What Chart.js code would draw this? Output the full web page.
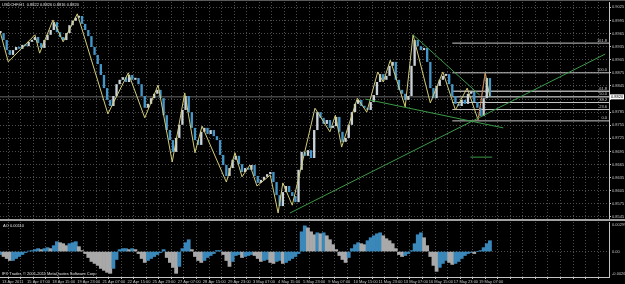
<!DOCTYPE html>
<html>
<head>
<meta charset="utf-8">
<script src="https://cdn.jsdelivr.net/npm/chart.js@4.4.1/dist/chart.umd.min.js"></script>
<style>
  html, body { margin: 0; padding: 0; background: #000; }
  #wrap { position: relative; width: 625px; height: 284px; overflow: hidden; background: #000; }
  #main { position: absolute; left: 0; top: 0; }
  #ao { position: absolute; left: 0; top: 221px; }
</style>
</head>
<body>
<div id="wrap">
  <canvas id="main" width="625" height="221"></canvas>
  <canvas id="ao" width="625" height="63"></canvas>
</div>
<script>
var symbolName = "USDCHF,H1";
var ohlcText = ["0.8822", "0.8826", "0.8816", "0.8820"];
var copyrightText = "IFX Trader, \u00a9 2001-2011 MetaQuotes Software Corp.";

// one sample every 4 H1 bars
var firstBar = -2;
var barStep = 4;
var closes = [
  0.8966,0.8950,0.8927,0.8916,0.8927,0.8934,0.8930,0.8939,0.8936,0.8946,
  0.8950,0.8957,0.8943,0.8932,0.8950,0.8962,0.8973,0.8991,0.8968,0.8957,
  0.8950,0.8966,0.8984,0.8994,0.9001,0.9005,0.8987,0.8973,0.8959,0.8934,
  0.8916,0.8895,0.8870,0.8840,0.8813,0.8799,0.8822,0.8849,0.8859,0.8865,
  0.8854,0.8870,0.8859,0.8863,0.8849,0.8822,0.8795,0.8804,0.8817,0.8827,
  0.8836,0.8817,0.8778,0.8744,0.8721,0.8694,0.8726,0.8756,0.8790,0.8822,
  0.8785,0.8749,0.8721,0.8710,0.8740,0.8749,0.8735,0.8744,0.8730,0.8721,
  0.8687,0.8664,0.8639,0.8657,0.8676,0.8685,0.8666,0.8648,0.8657,0.8653,
  0.8664,0.8639,0.8623,0.8630,0.8637,0.8643,0.8648,0.8625,0.8595,0.8570,
  0.8602,0.8616,0.8602,0.8593,0.8579,0.8653,0.8694,0.8685,0.8698,0.8680,
  0.8744,0.8785,0.8772,0.8758,0.8767,0.8749,0.8753,0.8774,0.8740,0.8717,
  0.8726,0.8756,0.8785,0.8804,0.8813,0.8799,0.8795,0.8790,0.8808,0.8824,
  0.8854,0.8872,0.8859,0.8868,0.8891,0.8900,0.8859,0.8836,0.8827,0.8813,
  0.8822,0.8891,0.8950,0.8936,0.8927,0.8932,0.8900,0.8840,0.8817,0.8845,
  0.8859,0.8868,0.8872,0.8849,0.8822,0.8804,0.8799,0.8813,0.8804,0.8827,
  0.8831,0.8808,0.8795,0.8776,0.8817,0.8863,0.8820
];
var aoValues = [
  -0.0003,-0.0005,-0.0007,-0.0009,-0.0009,-0.0007,-0.0005,-0.0003,-0.0001,0.00005,
  0.0001,0.0002,0.0003,0.0002,0.0003,0.0004,0.0003,0.0006,0.0010,0.0009,
  0.0008,0.0006,0.0008,0.0009,0.0010,0.0005,0.0001,-0.0002,-0.0006,-0.0010,
  -0.0012,-0.0014,-0.0017,-0.0019,-0.0021,-0.0022,-0.0017,-0.0008,0.0002,0.0003,
  0.0003,0.0002,0.0003,0.0002,-0.0002,-0.0007,-0.0011,-0.0009,-0.0007,-0.0005,
  -0.0003,-0.0001,0.0002,-0.0006,-0.0011,-0.0016,-0.0022,-0.0015,0.0003,0.0009,
  0.0012,0.0002,-0.0005,-0.0009,-0.0011,-0.0009,-0.0006,-0.0004,-0.0002,0.0001,
  0.0001,-0.0003,-0.0009,-0.0015,-0.0010,-0.0004,-0.0003,-0.0006,-0.0005,-0.0004,
  -0.0003,-0.0004,-0.0007,-0.0010,-0.0009,-0.0008,-0.0011,-0.0012,-0.0010,-0.0009,
  -0.0012,-0.0011,-0.0009,-0.0007,-0.0005,-0.0002,0.0020,0.0026,0.0024,0.0020,
  0.0017,0.0019,0.0018,0.0019,0.0016,0.0012,0.0007,0.0002,-0.0004,-0.0008,
  -0.0011,-0.0006,0.0003,0.0007,0.0009,0.0008,0.0007,0.0011,0.0014,0.0016,
  0.0018,0.0019,0.0016,0.0013,0.0011,0.0008,0.0003,-0.0003,-0.0005,-0.0004,
  -0.0002,0.0001,0.0008,0.0017,0.0019,0.0014,0.0006,-0.0005,-0.0014,-0.0020,
  -0.0016,-0.0012,-0.0009,-0.0011,-0.0013,-0.0012,-0.0010,-0.0007,-0.0004,-0.0002,
  -0.0001,-0.0002,0.0000,0.0001,0.0004,0.0008,0.0011
];

// zigzag pivots (bar index, price)
var zzBars = [-2,8,42,48,65,78,96,135,161,182,199,217,233,246,255,286,297,306,316,325,
  342,352,358,370,399,418,425,433,453,465,479,486,495,514,524,546,562,578,593,607,616,622];
var zzPrices = [0.8966,0.8900,0.8962,0.8920,0.8996,0.8946,0.9010,0.8781,0.8875,0.8772,
  0.8847,0.8671,0.8829,0.8692,0.8753,0.8625,0.8692,0.8637,0.8664,0.8616,
  0.8641,0.8554,0.8623,0.8572,0.8794,0.8740,0.8778,0.8705,0.8817,0.8785,
  0.8877,0.8854,0.8904,0.8797,0.8962,0.8806,0.8877,0.8790,0.8840,0.8767,0.8875,0.8820];

var priceTicks = [0.8545,0.8575,0.8605,0.8635,0.8665,0.8695,0.8725,0.8755,0.8785,0.8815,
  0.8845,0.8875,0.8905,0.8935,0.8965,0.8995,0.9025];
var timeLabels = ["13 Apr 2011","15 Apr 07:00","18 Apr 15:00","19 Apr 23:00","21 Apr 07:00",
  "22 Apr 15:00","25 Apr 23:00","27 Apr 07:00","28 Apr 15:00","29 Apr 23:00",
  "3 May 07:00","4 May 15:00","5 May 23:00","9 May 07:00","10 May 15:00",
  "11 May 23:00","13 May 07:00","16 May 15:00","17 May 23:00","19 May 07:00"];

var fibLevels = [0, 23.6, 38.2, 50.0, 61.8, 100.0, 161.8];
var fibLow = 0.8765;
var fibHigh = 0.8875;
var fibStartBar = 574;
var lastPrice = 0.8820;

var greenLines = [
  [[367, 0.8554], [769, 0.8918]],
  [[524, 0.8962], [609, 0.8824]],
  [[463, 0.8815], [639, 0.8749]],
  [[597, 0.8682], [625, 0.8682]]
];
var fibTrend = [[607, 0.8767], [616, 0.8875]];

var aoMax = 0.00299;
var aoMin = -0.00257;

var xMin = -2.55, xMax = 773.8;
var priceMin = 0.85404, priceMax = 0.90371;

var fontFam = "'Liberation Sans', Arial, sans-serif";
var gridColor = "#4c4c4c";
var axisColor = "#c4c4c4";

function barOf(i) { return firstBar + i * barStep; }

function gridTicks(axis) {
    var t = [];
    for (var b = 0; b <= 768; b += 16) t.push({ value: b });
    axis.ticks = t;
}

// candles: body from previous close to close
var candleData = [];
var candleColors = [];
for (let i = 0; i < closes.length; i++) {
    var open = i > 0 ? closes[i - 1] : closes[i];
    candleData.push({ x: barOf(i), y: [open, closes[i]] });
    candleColors.push(closes[i] >= open ? "#c9d2d9" : "#4596c8");
}

var zigzag = zzBars.map(function(b, i) { return { x: b, y: zzPrices[i] }; });

var mainSets = [{
    type: 'bar',
    data: candleData,
    backgroundColor: candleColors,
    borderWidth: 0,
    barPercentage: 0.75,
    categoryPercentage: 1,
    minBarLength: 2,
    order: 3
}, {
    type: 'line',
    data: zigzag,
    borderColor: "#d2cc78",
    borderWidth: 1,
    pointRadius: 0,
    tension: 0,
    order: 2
}, {
    type: 'line',
    data: [{ x: xMin, y: lastPrice }, { x: xMax, y: lastPrice }],
    borderColor: "#6a6a6a",
    borderWidth: 1,
    pointRadius: 0,
    order: 6
}, {
    type: 'line',
    data: fibTrend.map(function(p) { return { x: p[0], y: p[1] }; }),
    borderColor: "#c83232",
    borderDash: [1, 1],
    borderWidth: 1,
    pointRadius: 0,
    order: 1
}];

for (let k = 0; k < fibLevels.length; k++) {
    var lv = fibLow + fibLevels[k] / 100 * (fibHigh - fibLow);
    mainSets.push({
        type: 'line',
        data: [{ x: fibStartBar, y: lv }, { x: xMax, y: lv }],
        borderColor: fibLevels[k] == 61.8 ? "#a8a8a8" : "#c8c8c8",
        borderWidth: fibLevels[k] == 61.8 ? 1.6 : 1,
        pointRadius: 0,
        order: 4
    });
}
for (let k = 0; k < greenLines.length; k++) {
    mainSets.push({
        type: 'line',
        data: greenLines[k].map(function(p) { return { x: p[0], y: p[1] }; }),
        borderColor: "#3c9a48",
        borderWidth: 1,
        pointRadius: 0,
        order: 1
    });
}

var mainText = {
    id: 'mainText',
    afterDraw: function(chart) {
        var ctx = chart.ctx;
        var area = chart.chartArea;
        var ys = chart.scales.y;
        ctx.save();
        // panel frame
        ctx.fillStyle = "#5a5a5a";
        ctx.fillRect(0, 0, 625, 1);
        ctx.fillStyle = "#a0a0a0";
        ctx.fillRect(0, area.bottom, 625, 2);

        ctx.font = "4px " + fontFam;
        ctx.textBaseline = "top";
        ctx.textAlign = "left";
        ctx.fillStyle = "#e0e0e0";
        ctx.fillText(symbolName + "  " + ohlcText.join(" "), 2, 3);

        // fibo level captions
        ctx.textAlign = "right";
        ctx.textBaseline = "bottom";
        ctx.fillStyle = "#c8c8c8";
        for (let k = 0; k < fibLevels.length; k++) {
            var lv = fibLow + fibLevels[k] / 100 * (fibHigh - fibLow);
            ctx.fillText(fibLevels[k].toFixed(1), area.right - 2, ys.getPixelForValue(lv) - 0.5);
        }

        // last price box
        var py = ys.getPixelForValue(lastPrice);
        ctx.fillStyle = "#ffffff";
        ctx.fillRect(area.right + 1, py - 2.5, 14, 5);
        ctx.fillStyle = "#000000";
        ctx.textAlign = "left";
        ctx.textBaseline = "middle";
        ctx.fillText(lastPrice.toFixed(4), area.right + 2, py + 0.3);
        ctx.restore();
    }
};

new Chart(document.getElementById("main"), {
    type: 'bar',
    data: { datasets: mainSets },
    options: {
        responsive: false,
        animation: false,
        devicePixelRatio: 1,
        events: [],
        layout: { padding: { top: 2, bottom: 2, left: 0, right: 0 } },
        plugins: { legend: { display: false }, tooltip: { enabled: false } },
        scales: {
            x: {
                type: 'linear',
                min: xMin,
                max: xMax,
                offset: false,
                afterBuildTicks: gridTicks,
                afterFit: function(axis) { axis.height = 0; axis.paddingLeft = 0; axis.paddingRight = 0; },
                ticks: { display: false },
                grid: { color: gridColor, drawTicks: false },
                border: { display: false, dash: [1, 2] }
            },
            y: {
                position: 'right',
                min: priceMin,
                max: priceMax,
                afterBuildTicks: function(axis) {
                    axis.ticks = priceTicks.map(function(v) { return { value: v }; });
                },
                afterFit: function(axis) { axis.width = 16; axis.paddingTop = 0; axis.paddingBottom = 0; },
                ticks: {
                    color: axisColor,
                    padding: 1,
                    autoSkip: false,
                    font: { size: 4, family: fontFam },
                    callback: function(v) {
                        return Math.abs(v - lastPrice) < 0.0008 ? '' : v.toFixed(4);
                    }
                },
                grid: { color: gridColor, drawTicks: true, tickLength: 2, tickColor: axisColor },
                border: { display: true, color: axisColor, width: 1, dash: [1, 2] }
            }
        }
    },
    plugins: [mainText]
});

// Awesome Oscillator window
var aoData = [];
var aoColors = [];
for (let i = 0; i < aoValues.length; i++) {
    aoData.push({ x: barOf(i), y: aoValues[i] });
    aoColors.push(i > 0 && aoValues[i] < aoValues[i - 1] ? "#a9a9a9" : "#3a88ba");
}

var aoText = {
    id: 'aoText',
    afterDraw: function(chart) {
        var ctx = chart.ctx;
        var area = chart.chartArea;
        var ys = chart.scales.y;
        ctx.save();
        ctx.font = "4px " + fontFam;
        ctx.fillStyle = "#e0e0e0";
        ctx.textAlign = "left";
        ctx.textBaseline = "top";
        ctx.fillText("AO " + aoValues[aoValues.length - 1].toFixed(5), 3, area.top + 2);
        ctx.textBaseline = "bottom";
        ctx.fillText(copyrightText, 2, area.bottom - 1);

        ctx.fillStyle = axisColor;
        ctx.textBaseline = "top";
        ctx.fillText(aoMax.toFixed(5), area.right + 3, ys.getPixelForValue(aoMax) + 1);
        ctx.textBaseline = "middle";
        ctx.fillText("0.00", area.right + 3, ys.getPixelForValue(0));
        ctx.textBaseline = "bottom";
        ctx.fillText(aoMin.toFixed(4), area.right + 3, ys.getPixelForValue(aoMin) - 1);
        ctx.restore();
    }
};

new Chart(document.getElementById("ao"), {
    type: 'bar',
    data: {
        datasets: [{
            data: aoData,
            backgroundColor: aoColors,
            borderWidth: 0,
            barPercentage: 1,
            categoryPercentage: 1
        }]
    },
    options: {
        responsive: false,
        animation: false,
        devicePixelRatio: 1,
        events: [],
        layout: { padding: { top: 1, bottom: 0, left: 0, right: 0 } },
        plugins: { legend: { display: false }, tooltip: { enabled: false } },
        scales: {
            x: {
                type: 'linear',
                min: xMin,
                max: xMax,
                offset: false,
                afterBuildTicks: gridTicks,
                afterFit: function(axis) { axis.height = 7; axis.paddingLeft = 0; axis.paddingRight = 0; },
                ticks: {
                    color: axisColor,
                    padding: 0,
                    align: 'start',
                    maxRotation: 0,
                    autoSkip: false,
                    font: { size: 4, family: fontFam },
                    callback: function(v) {
                        return v % 32 === 0 ? (timeLabels[v / 32] || '') : '';
                    }
                },
                grid: { color: gridColor, drawTicks: true, tickLength: 2, tickColor: axisColor },
                border: { display: true, color: axisColor, width: 1, dash: [1, 2] }
            },
            y: {
                position: 'right',
                min: aoMin,
                max: aoMax,
                afterBuildTicks: function(axis) { axis.ticks = [{ value: 0 }]; },
                afterFit: function(axis) { axis.width = 16; axis.paddingTop = 0; axis.paddingBottom = 0; },
                ticks: { display: false },
                grid: { color: gridColor, drawTicks: false },
                border: { display: true, color: axisColor, width: 1, dash: [1, 2] }
            }
        }
    },
    plugins: [aoText]
});
</script>
</body>
</html>
